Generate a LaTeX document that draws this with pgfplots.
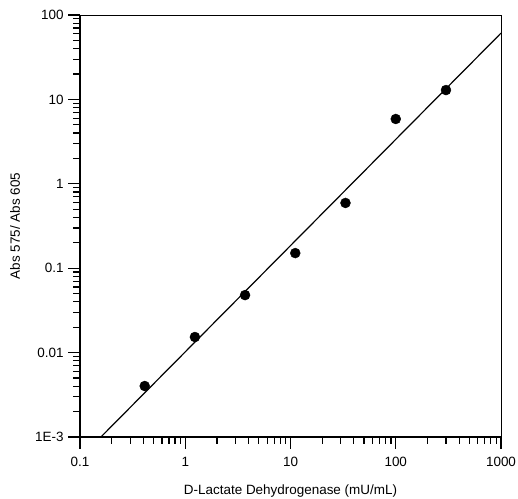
\documentclass[border=0pt]{standalone}
\usepackage{fontspec}
\setmainfont{Liberation Sans}
\usepackage{pgfplots}
\pgfplotsset{compat=1.18}
\begin{document}
\begin{tikzpicture}
\begin{axis}[
  scale only axis,
  width=421bp, height=422bp,
  xmode=log, ymode=log,
  xmin=0.1, xmax=1000, ymin=0.001, ymax=100,
  xtick={0.1,1,10,100,1000},
  xticklabels={0.1,1,10,100,1000},
  ytick={0.001,0.01,0.1,1,10,100},
  yticklabels={1E-3,0.01,0.1,1,10,100},
  tick pos=left,
  tick align=outside,
  major tick length=12bp,
  minor tick length=7bp,
  every tick/.style={black, line width=1.2bp},
  axis line style={line width=1bp},
  /pgf/number format/assume math mode=true,
  tick label style={font=\fontsize{13.5}{16}\selectfont},
  xticklabel style={yshift=-5bp},
  yticklabel style={xshift=-1bp},
  label style={font=\fontsize{13.5}{16}\selectfont},
  xlabel={D-Lactate Dehydrogenase (mU/mL)},
  ylabel={Abs 575/ Abs 605},
  xlabel style={at={(axis description cs:0.5,-0.128)}, anchor=center},
  ylabel style={at={(axis description cs:-0.154,0.5)}, anchor=center},
  clip=true,
]
\draw[line width=2bp] (rel axis cs:0,0) -- (rel axis cs:0,1);
\draw[line width=2bp] (rel axis cs:0,0) -- (rel axis cs:1,0);
\addplot[black, line width=1.2bp, no marks] coordinates {(0.158,0.001) (1000,61)};
\addplot[only marks, mark=*, mark size=5bp, black] coordinates {
(0.412,0.00402) (1.235,0.0153) (3.7,0.048) (11.1,0.151) (33.3,0.593) (100,5.86) (300,12.9)};
\coordinate (bl) at (rel axis cs:0,0);
\end{axis}
\pgfresetboundingbox
\useasboundingbox (bl) ++(-80bp,-62bp) rectangle ++(518bp,499bp);
\end{tikzpicture}
\end{document}
